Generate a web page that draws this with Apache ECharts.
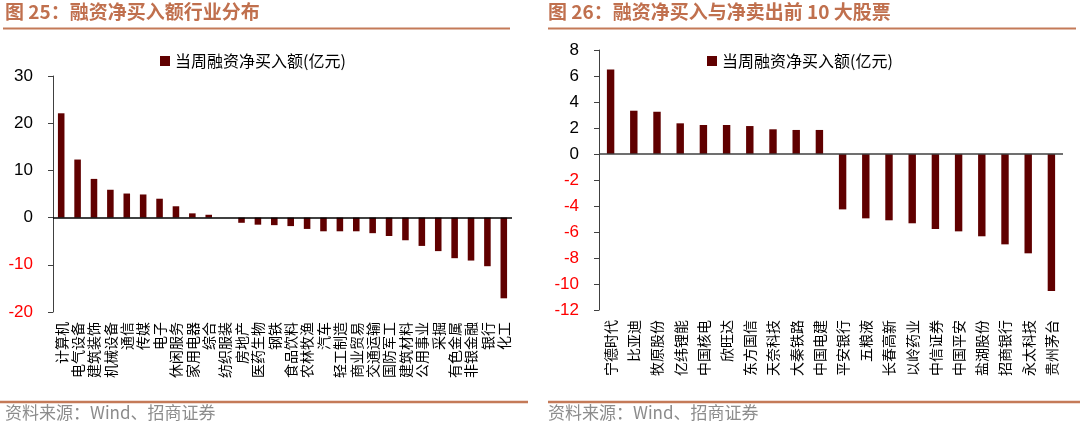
<!DOCTYPE html>
<html><head><meta charset="utf-8">
<script src="https://cdn.jsdelivr.net/npm/echarts@6/dist/echarts.min.js"></script>
<style>html,body{margin:0;padding:0;background:#fff}#c{width:1080px;height:426px}</style>
</head><body><div id="c"></div>
<script>
const seriesName = '当周融资净买入额(亿元)';
const leftCategories = ['计算机','电气设备','建筑装饰','机械设备','通信','传媒','电子','休闲服务','家用电器','综合','纺织服装','房地产','医药生物','钢铁','食品饮料','农林牧渔','汽车','轻工制造','商业贸易','交通运输','国防军工','建筑材料','公用事业','采掘','有色金属','非银金融','银行','化工'];
const leftValues = [22.1,12.3,8.2,5.9,5.1,4.9,4.0,2.4,0.9,0.6,0,-1.1,-1.5,-1.6,-1.8,-2.4,-2.9,-2.9,-2.9,-3.3,-3.9,-4.8,-6.0,-7.1,-8.6,-9.1,-10.3,-17.1];
const rightCategories = ['宁德时代','比亚迪','牧原股份','亿纬锂能','中国核电','欣旺达','东方国信','天奈科技','大秦铁路','中国电建','平安银行','五粮液','长春高新','以岭药业','中信证券','中国平安','盐湖股份','招商银行','永太科技','贵州茅台'];
const rightValues = [6.5,3.33,3.25,2.36,2.23,2.23,2.15,1.9,1.85,1.85,-4.26,-4.95,-5.1,-5.33,-5.77,-5.95,-6.33,-6.95,-7.64,-10.54];
const leftTicks = {min:-20, max:30, interval:10};
const rightTicks = {min:-12, max:8, interval:2};
const titles = ['图 25：融资净买入额行业分布','图 26：融资净买入与净卖出前 10 大股票'];
const sourceText = '资料来源：Wind、招商证券';

const barColor = '#600000';
const accent = '#C47A58';
const cjk = '"Noto Sans CJK SC", "Noto Sans", sans-serif';
const chart = echarts.init(document.getElementById('c'));

function yAxis(gi, t){
  return {gridIndex:gi, type:'value', min:t.min, max:t.max, interval:t.interval,
    splitLine:{show:false},
    axisLine:{show:true, lineStyle:{color:'#404040', width:1}},
    axisTick:{show:true, inside:false, length:5, lineStyle:{color:'#404040'}},
    axisLabel:{margin:20, fontSize:17, fontFamily:'"Liberation Sans", Arial, sans-serif',
      color:function(v){return Number(v) < 0 ? '#FF0000' : '#000000';}}
  };
}
function xAxis(gi, cats){
  return {gridIndex:gi, type:'category', data:cats, position:'bottom',
    axisLine:{show:false, onZero:false}, axisTick:{show:false},
    axisLabel:{interval:0, rotate:90, margin:10, fontSize:14, fontFamily:cjk, color:'#000'}
  };
}
function bar(gi, vals, w, zc){
  return {name:seriesName, type:'bar', xAxisIndex:gi, yAxisIndex:gi, data:vals, barWidth:w,
    itemStyle:{color:barColor}, animation:false,
    markLine:{silent:true, symbol:'none', label:{show:false},
      lineStyle:{color:zc, type:'solid', width:1.5}, data:[{yAxis:0}]}
  };
}

const graphics = [];
[[5,3,510,0,528],[548,548,1076,548,1080]].forEach((p,i)=>{
  graphics.push({type:'text', left:p[0], top:2, style:{text:titles[i], fill:'#C0704E', font:'bold 19px '+cjk}});
  graphics.push({type:'line', shape:{x1:p[1], y1:28.5, x2:p[2], y2:28.5}, style:{stroke:accent, lineWidth:2}});
  graphics.push({type:'line', shape:{x1:p[3], y1:402, x2:p[4], y2:402}, style:{stroke:accent, lineWidth:2.5}});
  graphics.push({type:'text', left:p[0], top:404, style:{text:sourceText, fill:'#8C8C8C', font:'17px '+cjk}});
});

chart.setOption({
  backgroundColor:'#fff',
  animation:false,
  grid:[{left:53, top:76, width:459, height:236}, {left:599, top:50, width:464, height:260}],
  xAxis:[xAxis(0,leftCategories), xAxis(1,rightCategories)],
  yAxis:[yAxis(0,leftTicks), yAxis(1,rightTicks)],
  legend:[
    {left:155, top:48, itemWidth:10, itemHeight:10, itemGap:6, icon:'rect', data:[seriesName], textStyle:{fontSize:16, fontFamily:cjk, color:'#000'}},
    {left:702, top:48, itemWidth:10, itemHeight:10, itemGap:6, icon:'rect', data:[seriesName], textStyle:{fontSize:16, fontFamily:cjk, color:'#000'}}
  ],
  series:[bar(0,leftValues,'40%','#000'), bar(1,rightValues,'32%','#404040')],
  graphic:graphics
});
</script></body></html>
